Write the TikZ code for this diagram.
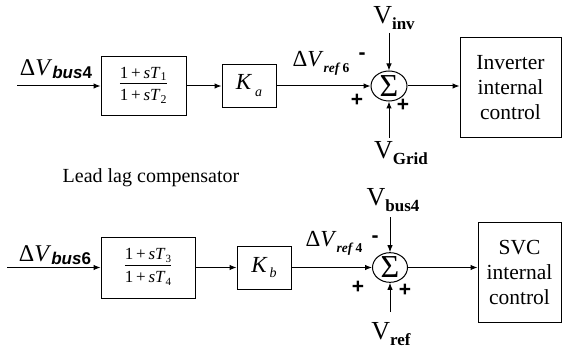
\documentclass[tikz,border=0pt]{standalone}
\usepackage{fontspec}
\setmainfont{Liberation Serif}
\setsansfont{Liberation Sans}
\usetikzlibrary{shapes.geometric,arrows.meta}

\begin{document}
\begin{tikzpicture}[x=10pt,y=-10pt,>={Latex[length=7pt,width=5.5pt]},
  blk/.style={draw,line width=1pt,inner sep=0pt},
  sumnode/.style={draw,ellipse,line width=1pt,inner sep=0pt,minimum width=36pt,minimum height=30pt},
  wire/.style={line width=1pt,->},
  sgn/.style={font=\sffamily\bfseries\fontsize{21}{21}\selectfont},
  bigtxt/.style={font=\fontsize{21.5}{25}\selectfont,align=center}]
  \useasboundingbox (0,0) rectangle (56.2,35.0);
  % upper loop
  \node[blk,minimum width=85pt,minimum height=59pt] (lead1) at (14.35,8.6)
    {\fontsize{17}{17}\selectfont\begin{tabular}{@{}c@{}}1\,+\,\textit{sT}\textsubscript{1}\\[0pt]\hline\rule{0pt}{17pt}1\,+\,\textit{sT}\textsubscript{2}\end{tabular}};
  \node[blk,minimum width=54pt,minimum height=43pt] (gainA) at (24.9,8.6)
    {\fontsize{23}{23}\selectfont\textit{K}\hspace{3pt}\raisebox{-7pt}{\fontsize{14}{14}\selectfont\textit{a}}};
  \node[sumnode] (sumA) at (38.9,8.6) {\fontsize{32}{32}\selectfont Σ};
  \node[blk,bigtxt,minimum width=101pt,minimum height=100pt] (inv) at (51.05,8.8)
    {Inverter\\internal\\control};
  \coordinate (inA) at (1.7,8.6);
  \coordinate (vinvA) at (38.9,3.3);
  \coordinate (vgridA) at (38.9,13.8);
  \draw[wire] (inA) -- (lead1.west);
  \draw[wire] (lead1) -- (gainA);
  \draw[wire] (gainA) -- (sumA);
  \draw[wire] (vinvA) -- (sumA.north);
  \draw[wire] (vgridA) -- (sumA.south);
  \draw[wire] (sumA.east) -- (sumA.east -| inv.west);
  \node (lbus4) at (5.6,6.9) {\fontsize{24}{24}\selectfont Δ\textit{V}\raisebox{-3pt}{\sffamily\bfseries\fontsize{17}{17}\selectfont\textit{bus}4}};
  \node (lref6) at (32.1,6.3) {\fontsize{23}{23}\selectfont Δ\textit{V}\raisebox{-6pt}{\bfseries\fontsize{13.5}{13.5}\selectfont\textit{ref}\,6}};
  \node (lvinv) at (39.4,1.8) {\fontsize{26}{26}\selectfont V\raisebox{-6pt}{\bfseries\fontsize{17}{17}\selectfont inv}};
  \node (lvgrid) at (40.1,15.3) {\fontsize{26}{26}\selectfont V\raisebox{-6pt}{\bfseries\fontsize{17}{17}\selectfont Grid}};
  \node[sgn] (mA) at (36.2,5.6) {-};
  \node[sgn] (pA) at (35.7,10.0) {+};
  \node[sgn] (qA) at (40.3,10.5) {+};
  \node (llead) at (15.1,17.8) {\fontsize{20}{20}\selectfont Lead lag compensator};
  % lower loop
  \node[blk,minimum width=94pt,minimum height=61pt] (lead2) at (14.8,26.75)
    {\fontsize{17}{17}\selectfont\begin{tabular}{@{}c@{}}1\,+\,\textit{sT}\raisebox{-3pt}{\fontsize{11}{11}\selectfont 3}\\[0pt]\hline\rule{0pt}{17pt}1\,+\,\textit{sT}\raisebox{-3pt}{\fontsize{11}{11}\selectfont 4}\end{tabular}};
  \node[blk,minimum width=54pt,minimum height=43pt] (gainB) at (26.4,26.75)
    {\fontsize{23}{23}\selectfont\textit{K}\hspace{2pt}\raisebox{-5pt}{\fontsize{14}{14}\selectfont\textit{b}}};
  \node[sumnode,minimum width=35pt,minimum height=29pt] (sumB) at (39.0,26.75) {\fontsize{32}{32}\selectfont Σ};
  \node[blk,bigtxt,minimum width=83pt,minimum height=100pt] (svc) at (51.95,27.2)
    {SVC\\internal\\control};
  \coordinate (inB) at (0.7,26.75);
  \coordinate (vbusB) at (39.0,21.7);
  \coordinate (vrefB) at (39.0,31.2);
  \draw[wire] (inB) -- (lead2.west);
  \draw[wire] (lead2) -- (gainB);
  \draw[wire] (gainB) -- (sumB);
  \draw[wire] (vbusB) -- (sumB.north);
  \draw[wire] (vrefB) -- (sumB.south);
  \draw[wire] (sumB.east) -- (sumB.east -| svc.west);
  \node (lbus6) at (5.5,25.5) {\fontsize{24}{24}\selectfont Δ\textit{V}\raisebox{-3pt}{\sffamily\bfseries\fontsize{17}{17}\selectfont\textit{bus}6}};
  \node (lref4) at (33.4,24.3) {\fontsize{23}{23}\selectfont Δ\textit{V}\raisebox{-6pt}{\bfseries\fontsize{13.5}{13.5}\selectfont\textit{ref}\,4}};
  \node (lvbus) at (39.3,20.0) {\fontsize{26}{26}\selectfont V\raisebox{-6pt}{\bfseries\fontsize{17}{17}\selectfont bus4}};
  \node (lvref) at (39.1,33.4) {\fontsize{26}{26}\selectfont V\raisebox{-6pt}{\bfseries\fontsize{17}{17}\selectfont ref}};
  \node[sgn] (mB) at (37.5,23.9) {-};
  \node[sgn] (pB) at (35.8,28.7) {+};
  \node[sgn] (qB) at (40.5,29.0) {+};
\end{tikzpicture}
\end{document}
